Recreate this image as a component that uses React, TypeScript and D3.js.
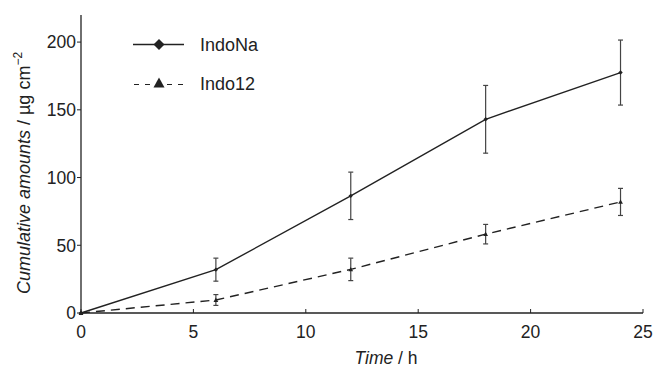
import React from "react";
import * as d3 from "d3";

const times = [0, 6, 12, 18, 24];
const indoNa = [0, 32, 86.5, 143, 177.5];
const indoNaErr = [0, 8.5, 17.5, 25, 24];
const indo12 = [0, 9.6, 32.2, 58.2, 82];
const indo12Err = [0, 4, 8.3, 7.2, 10];
const xTicks = [0, 5, 10, 15, 20, 25];
const yTicks = [0, 50, 100, 150, 200];

const W = 655, H = 367;
const x = d3.scaleLinear().domain([0, 25]).range([81, 643]);
const y = d3.scaleLinear().domain([0, 220]).range([313, 15]);
const font = "'Liberation Sans', Arial, sans-serif";

export default function App() {
  const line = d3.line<number>().x((_, i) => x(times[i])).y((d) => y(d));
  const series = [
    { name: "IndoNa", vals: indoNa, err: indoNaErr, dash: "none", marker: "diamond" },
    { name: "Indo12", vals: indo12, err: indo12Err, dash: "9,6", marker: "triangle" },
  ];
  const diamond = (cx: number, cy: number, r: number) =>
    `M${cx},${cy - r}L${cx + r},${cy}L${cx},${cy + r}L${cx - r},${cy}Z`;
  const tri = (cx: number, cy: number, r: number) =>
    `M${cx},${cy - r}L${cx + r},${cy + r * 0.8}L${cx - r},${cy + r * 0.8}Z`;
  return (
    <svg width={W} height={H} style={{ position: "absolute", left: 0, top: 0, background: "#fff" }}>
      <line x1={x(0)} x2={x(0)} y1={15} y2={y(0)} stroke="#222" strokeWidth={1.3} />
      <line x1={x(0)} x2={x(25)} y1={y(0)} y2={y(0)} stroke="#222" strokeWidth={1.3} />
      {yTicks.map((t) => (
        <g key={"y" + t}>
          <line x1={x(0) - 4} x2={x(0)} y1={y(t)} y2={y(t)} stroke="#222" strokeWidth={1} />
          <text x={x(0) - 5} y={y(t)} dy="0.36em" textAnchor="end" fontFamily={font} fontSize={17.5} fill="#222">{t}</text>
        </g>
      ))}
      {xTicks.map((t) => (
        <g key={"x" + t}>
          <line x1={x(t)} x2={x(t)} y1={y(0) - 4} y2={y(0)} stroke="#222" strokeWidth={1} />
          <text x={x(t)} y={337.5} textAnchor="middle" fontFamily={font} fontSize={17.5} fill="#222">{t}</text>
        </g>
      ))}
      <text x={386} y={364} textAnchor="middle" fontFamily={font} fontSize={17.5} fill="#222">
        <tspan fontStyle="italic">Time</tspan> / h
      </text>
      <text transform="translate(30,173) rotate(-90)" textAnchor="middle" fontFamily={font} fontSize={18} fill="#222">
        <tspan fontStyle="italic">Cumulative amounts</tspan> / µg cm<tspan dy="-8" fontSize={12}>−2</tspan>
      </text>
      {series.map((s) => (
        <g key={s.name}>
          <path d={line(s.vals) || ""} fill="none" stroke="#222" strokeWidth={1.4} strokeDasharray={s.dash} />
          {s.vals.map((v, i) =>
            s.err[i] > 0 ? (
              <g key={i} stroke="#444" strokeWidth={1.2}>
                <line x1={x(times[i])} x2={x(times[i])} y1={y(v + s.err[i])} y2={y(v - s.err[i])} />
                <line x1={x(times[i]) - 2.5} x2={x(times[i]) + 2.5} y1={y(v + s.err[i])} y2={y(v + s.err[i])} />
                <line x1={x(times[i]) - 2.5} x2={x(times[i]) + 2.5} y1={y(v - s.err[i])} y2={y(v - s.err[i])} />
              </g>
            ) : null
          )}
          {s.vals.map((v, i) => (
            <path key={"m" + i} d={s.marker === "diamond" ? diamond(x(times[i]), y(v), 2.2) : tri(x(times[i]), y(v), 2.4)} fill="#222" />
          ))}
        </g>
      ))}
      <line x1={133} x2={184} y1={44.5} y2={44.5} stroke="#222" strokeWidth={1.4} />
      <path d={diamond(159, 44.5, 5.5)} fill="#222" />
      <text x={200} y={51} fontFamily={font} fontSize={18} fill="#222">IndoNa</text>
      <line x1={134} x2={185} y1={84.5} y2={84.5} stroke="#222" strokeWidth={1.2} strokeDasharray="5,6" />
      <path d={tri(159, 83, 5.5)} fill="#222" />
      <text x={200} y={90} fontFamily={font} fontSize={18} fill="#222">Indo12</text>
    </svg>
  );
}
